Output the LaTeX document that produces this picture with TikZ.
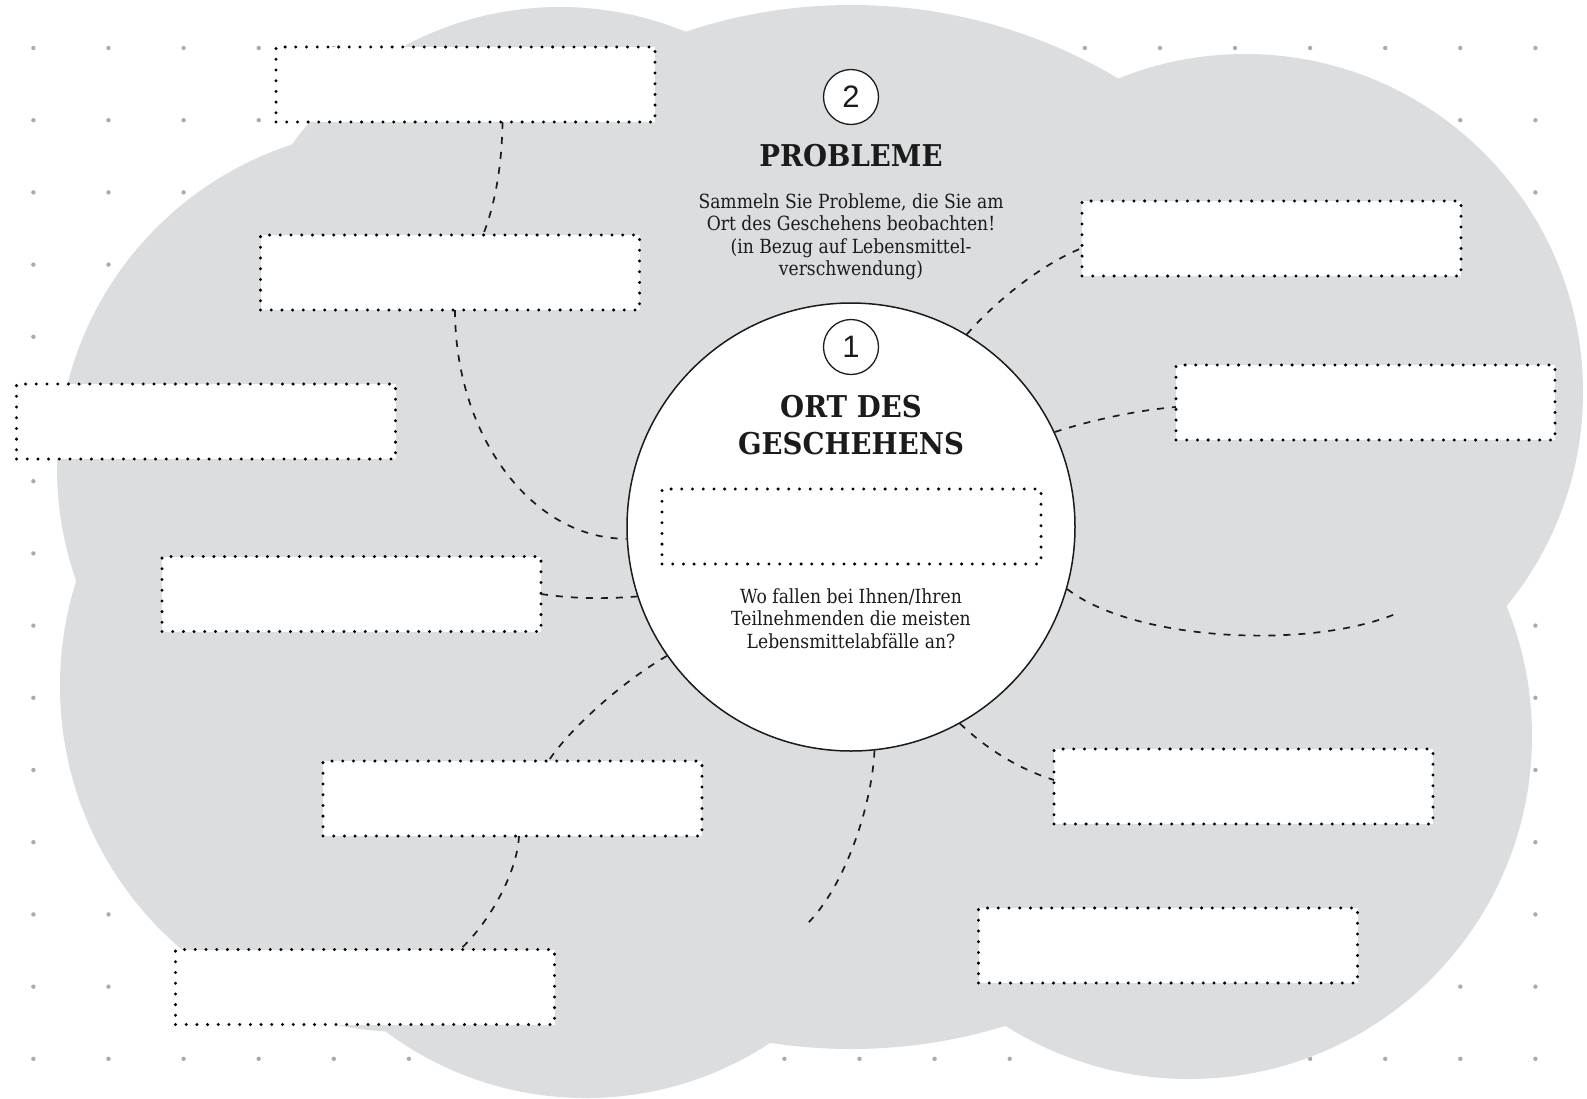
\documentclass[tikz,border=0pt]{standalone}
\usepackage{fontspec}
\setmainfont{DejaVu Serif}
\newfontfamily\bodyfont[FakeStretch=0.88]{DejaVu Serif}
\newfontfamily\titlefont[FakeStretch=0.92]{DejaVu Serif}
\newfontfamily\numfont{Liberation Sans}
\usetikzlibrary{calc}
\definecolor{cloudgray}{HTML}{DCDDDF}
\definecolor{griddot}{HTML}{ABABAB}
\definecolor{ink}{HTML}{1B1B1B}
\tikzset{
  slot/.style={draw=black, fill=white, line width=3.3pt, line cap=round, dash pattern=on 0pt off 10.7pt, minimum width=379pt, minimum height=75pt, inner sep=0pt, outer sep=0pt},
  conn/.style={draw=ink, line width=1.7pt, dash pattern=on 7pt off 8pt},
  numcirc/.style={circle, draw=ink, fill=white, line width=1.3pt, minimum size=55pt, inner sep=0pt, font=\numfont\fontsize{31}{31}\selectfont, text=ink},
  titletext/.style={font=\titlefont\bfseries\fontsize{30}{37}\selectfont, text=ink, align=center, inner sep=0pt},
  bodytext/.style={font=\bodyfont\fontsize{19.5}{22.5}\selectfont, text=ink, align=center, inner sep=0pt},
}
\begin{document}
\begin{tikzpicture}[x=1pt,y=-1pt]
\fill[white] (0,0) rectangle (1587,1098);
\useasboundingbox (0,0) rectangle (1587,1098);
% dot grid
\foreach \i in {0,...,20}{\foreach \j in {0,...,14}{\fill[griddot] ({33.4+75.1*\i},{48+72.2*\j}) circle[radius=2.2pt];}}
% cloud
\fill[cloudgray] (397,468) circle[radius=340pt] (406,686) circle[radius=346pt]
  (586,763) circle[radius=335pt] (560,337) circle[radius=330pt]
  (851,527) circle[radius=522pt] (1245,392) circle[radius=338pt]
  (1189,736) circle[radius=343pt];
% central circle
\node[circle, draw=ink, fill=white, line width=1.5pt, minimum size=448pt, inner sep=0pt] (loc) at (851,527) {};
% boxes
\node[slot] (A) at (465.5,84.5) {};
\node[slot] (B) at (450,272.5) {};
\node[slot] (C) at (206,421.5) {};
\node[slot] (D) at (351.5,594) {};
\node[slot] (E) at (512.5,798.5) {};
\node[slot] (F) at (365,987) {};
\node[slot] (G) at (1271.5,238.5) {};
\node[slot] (H) at (1365.5,402.5) {};
\node[slot] (I) at (1243.5,786.5) {};
\node[slot] (J) at (1168,945.5) {};
\node[slot] (K) at (851.5,526.5) {};
% texts
\node[numcirc] (n2) at (851,97) {2};
\node[titletext, anchor=base] (prob) at (851,166) {PROBLEME};
\node[bodytext, anchor=north] (probtext) at (851,193) {Sammeln Sie Probleme, die Sie am\\Ort des Geschehens beobachten!\\(in Bezug auf Lebensmittel-\\verschwendung)};
\node[numcirc] (n1) at (851,347) {1};
\node[titletext, anchor=north] (ort) at (851,395) {ORT DES\\GESCHEHENS};
\node[bodytext, anchor=north] (wo) at (851,588) {Wo fallen bei Ihnen/Ihren\\Teilnehmenden die meisten\\Lebensmittelabfälle an?};
% connectors
\coordinate (endB) at (805,926);
\coordinate (endR) at (1400,612);
\draw[conn] ([xshift=37pt]A.south) .. controls (502,165) and (495,205) .. ([xshift=33pt]B.north);
\draw[conn] ([xshift=5pt]B.south) .. controls (455,436) and (532,539) .. (loc.183);
\draw[conn] (D.east) .. controls (575,599) and (605,599) .. (loc.198);
\draw[conn] (loc.215) .. controls (620,683) and (568,731) .. ([xshift=36pt]E.north);
\draw[conn] ([xshift=6.5pt]E.south) .. controls (517,875) and (487,925) .. ([xshift=95pt]F.north);
\draw[conn] (loc.276) .. controls (872,805) and (845,888) .. (endB);
\draw[conn] (loc.299) .. controls (990,752) and (1022,770) .. ([yshift=6.5pt]I.west);
\draw[conn] (loc.344) .. controls (1135,642) and (1315,650) .. (endR);
\draw[conn] (loc.25) .. controls (1095,419) and (1140,410) .. ([yshift=-4.5pt]H.west);
\draw[conn] (loc.59) .. controls (995,302) and (1040,265) .. ([yshift=-9.5pt]G.west);
\end{tikzpicture}
\end{document}
